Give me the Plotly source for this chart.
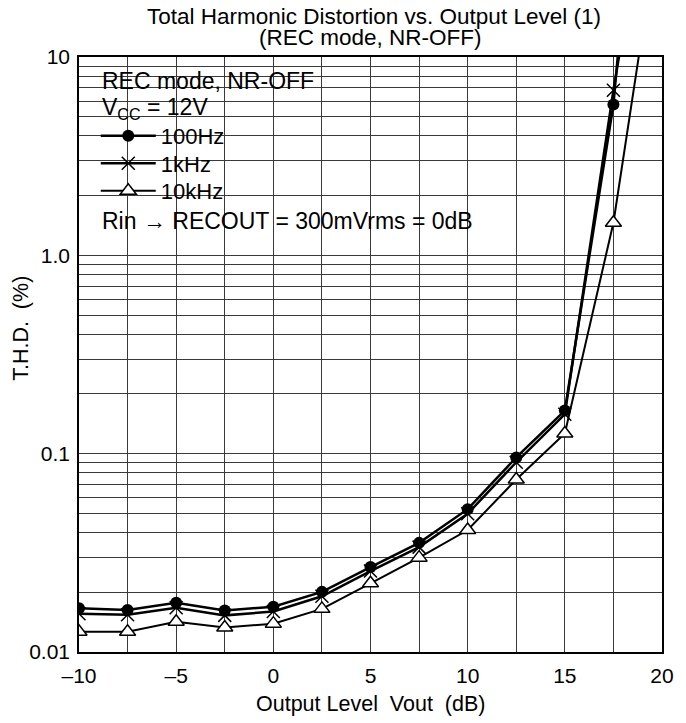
import plotly.graph_objects as go

# ---- data ----
vout_db = [-10, -7.5, -5, -2.5, 0, 2.5, 5, 7.5, 10, 12.5, 15, 17.5, 20]
thd_100hz = [0.0166, 0.0163, 0.0177, 0.0162, 0.0169, 0.0201, 0.0268, 0.0355, 0.0525, 0.0957, 0.165, 5.76, 3000]
thd_1khz = [0.0156, 0.0154, 0.0167, 0.0153, 0.0160, 0.0191, 0.0256, 0.0338, 0.0498, 0.0905, 0.158, 6.8, 200]
thd_10khz = [0.01265, 0.01265, 0.0142, 0.0133, 0.0139, 0.0165, 0.0222, 0.0299, 0.0412, 0.0741, 0.1265, 1.46, 59]

x_tickvals = [-10, -7.5, -5, -2.5, 0, 2.5, 5, 7.5, 10, 12.5, 15, 17.5, 20]
x_ticktext = ["–10", "", "–5", "", "0", "", "5", "", "10", "", "15", "", "20"]
y_tickvals = [0.01, 0.1, 1, 10]
y_ticktext = ["0.01", "0.1", "1.0", "10"]
y_minor = [m * d for d in (0.01, 0.1, 1) for m in range(2, 10)]

FONT = "Liberation Sans, Arial, Helvetica, sans-serif"
GRID = "#3a3a3a"
TXT = 23

fig = go.Figure()
fig.add_trace(go.Scatter(x=vout_db, y=thd_10khz, name="10kHz", mode="lines+markers",
                         legend="legend3",
                         line=dict(color="black", width=2),
                         marker=dict(symbol="triangle-up", size=14, color="white",
                                     line=dict(color="black", width=1.5))))
fig.add_trace(go.Scatter(x=vout_db, y=thd_1khz, name="1kHz", mode="lines+markers",
                         legend="legend2",
                         line=dict(color="black", width=2.5),
                         marker=dict(symbol="x-thin", size=13,
                                     line=dict(color="black", width=1.5))))
fig.add_trace(go.Scatter(x=vout_db, y=thd_100hz, name="100Hz", mode="lines+markers",
                         legend="legend",
                         line=dict(color="black", width=2.5),
                         marker=dict(symbol="circle", size=12, color="black")))

# white boxes behind the note text (cover the grid)
fig.add_shape(type="rect", xref="paper", yref="paper", x0=0.0118, x1=0.406, y0=0.756, y1=0.988,
              fillcolor="white", line_width=0, layer="between")
fig.add_shape(type="rect", xref="paper", yref="paper", x0=0.0118, x1=0.695, y0=0.699, y1=0.757,
              fillcolor="white", line_width=0, layer="between")

def note(text, x, y, **kw):
    fig.add_annotation(xref="paper", yref="paper", x=x, y=y, text=text, showarrow=False,
                       font=dict(size=kw.pop("size", TXT), color="black"), **kw)

# title (two lines, tight spacing)
note("Total Harmonic Distortion vs. Output Level (1)", 0.506, (652 - 16) / 595,
     xanchor="center", yanchor="middle", size=22.5)
note("(REC mode, NR-OFF)", 0.5, (652 - 38) / 595, xanchor="center", yanchor="middle", size=22.5)
# inset notes
note("REC mode, NR-OFF", (100 - 79) / 591, (652 - 81) / 595, xanchor="left", yanchor="middle")
note("V<sub>CC</sub> = 12V", (100 - 79) / 591, (652 - 108) / 595, xanchor="left", yanchor="middle")
note("Rin → RECOUT = 300mVrms = 0dB", (100 - 79) / 591, (652 - 221) / 595,
     xanchor="left", yanchor="middle")
# axis titles
note("T.H.D.  (%)", (20 - 79) / 591, (652 - 328) / 595, xanchor="center", yanchor="middle",
     textangle=-90, size=21.5)
note("Output Level  Vout  (dB)", (375 - 79) / 591, (652 - 704) / 595,
     xanchor="center", yanchor="middle", size=21.5)

leg = dict(x=(96 - 79) / 591, xanchor="left", yanchor="middle", bgcolor="rgba(0,0,0,0)",
           font=dict(size=22), itemwidth=55)

fig.update_layout(
    width=686, height=723,
    margin=dict(l=79, r=16, t=57, b=71),
    paper_bgcolor="white", plot_bgcolor="white",
    font=dict(family=FONT, color="black", size=TXT),
    hovermode=False,
    showlegend=True,
    legend=dict(leg, y=(652 - 136) / 595),
    legend2=dict(leg, y=(652 - 163.5) / 595),
    legend3=dict(leg, y=(652 - 191) / 595),
    xaxis=dict(range=[-10, 20], tickvals=x_tickvals, ticktext=x_ticktext,
               showgrid=True, gridcolor=GRID, gridwidth=1, zeroline=False,
               showline=True, linecolor="black", linewidth=1.5, mirror="ticks",
               ticks="inside", ticklen=7, tickcolor=GRID, tickfont=dict(size=21),
               ticklabelstandoff=4, ticklabeloverflow="allow"),
    yaxis=dict(type="log", range=[-2, 1], tickvals=y_tickvals, ticktext=y_ticktext,
               showgrid=True, gridcolor=GRID, gridwidth=1, zeroline=False,
               showline=True, linecolor="black", linewidth=1.5, mirror="ticks",
               ticks="inside", ticklen=7, tickcolor=GRID, tickfont=dict(size=21),
               ticklabelstandoff=3,
               minor=dict(tickvals=y_minor, ticks="inside", ticklen=7, tickcolor=GRID,
                          showgrid=True, gridcolor=GRID, gridwidth=1)),
)

fig.write_html(
    "out.html", config={"displayModeBar": False},
    post_script=("document.body.style.margin='0';"
                 "document.documentElement.style.overflow='hidden';"
                 "document.body.style.overflow='hidden';"))
